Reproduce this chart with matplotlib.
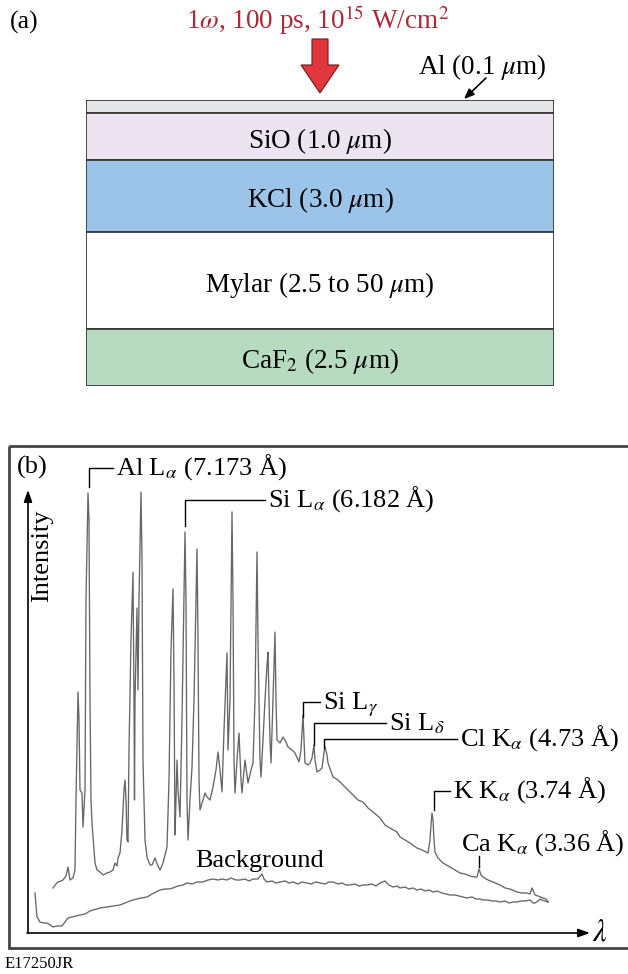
import numpy as np
import matplotlib.pyplot as plt
from matplotlib.patches import FancyArrow, Rectangle

plt.rcParams['font.family'] = ['Liberation Serif', 'DejaVu Serif']
plt.rcParams['mathtext.fontset'] = 'stix'

W, H = 628, 974

# (a) target layers, top to bottom
layer_labels = ['', r'SiO (1.0 $\mu$m)', r'KCl (3.0 $\mu$m)',
                r'Mylar (2.5 to 50 $\mu$m)', r'CaF$_2$ (2.5 $\mu$m)']
layer_draw = [13, 47, 72, 97, 57]   # schematic heights
layer_colors = ['#e5e6e7', '#ede4f1', '#9cc4e8', '#ffffff', '#b7dbc0']

# (b) spectrum, channel vs intensity (arb. units)
chan_main = [53, 56, 58, 61, 63, 66, 68, 70, 73, 75,
             76, 78, 79, 80, 82, 83, 85, 86, 88, 89, 90, 91, 92, 95, 97, 100, 103, 107, 110, 113,
             115, 117, 118, 120, 122, 124, 125, 126, 127, 128, 129, 131, 133, 134, 134.5, 135, 137, 138, 139, 141,
             142, 143, 145, 147, 150, 152, 155, 158, 160, 163, 165, 167, 169, 171, 173, 174, 175, 176, 177, 178,
             180, 182, 185, 186, 187, 188, 190, 192, 194, 196, 197, 198, 199, 200, 203, 205, 207, 210, 213, 216,
             218, 220, 222, 224, 227, 228, 230, 232, 233, 234, 235, 237, 239, 241, 242, 245, 247, 248, 251, 253,
             255, 257, 258, 259, 260, 261, 263, 265, 267, 268, 269, 270, 271, 273, 275, 276, 277, 280, 283, 286,
             288, 292, 295, 299, 301, 303, 304, 305, 308, 310, 312, 314, 315, 317, 320, 322, 324, 325, 327, 328,
             333, 338, 343, 348, 353, 358, 363, 368, 373, 380, 385, 390, 397, 400, 405, 410, 417, 422, 428, 430,
             431, 432, 433, 434, 435, 438, 443, 450, 455, 460, 465, 470, 475, 477, 479, 481, 483, 488, 493, 500,
             505, 510, 517, 522, 527, 530, 532, 533, 535, 538, 543, 546, 548]
int_main = [44, 48, 50, 51, 52, 56, 65, 52, 54, 62,
            132, 240, 212, 142, 139, 105, 142, 332, 439, 412, 232, 132, 109, 69, 62, 60, 57, 59, 60, 62,
            69, 66, 74, 79, 102, 142, 152, 132, 92, 90, 182, 292, 360, 232, 132, 232, 324, 242, 332, 440,
            372, 172, 92, 75, 67, 67, 74, 66, 62, 69, 77, 85, 152, 282, 343, 252, 97, 132, 172, 142,
            115, 212, 400, 332, 132, 92, 132, 165, 232, 332, 383, 292, 152, 122, 132, 139, 135, 132, 145, 162,
            180, 162, 140, 202, 279, 182, 232, 420, 332, 172, 139, 172, 199, 152, 139, 172, 157, 149, 162, 169,
            232, 380, 292, 232, 172, 155, 192, 232, 267, 280, 232, 192, 169, 232, 300, 232, 192, 189, 195, 190,
            185, 182, 179, 170, 182, 217, 192, 169, 167, 169, 174, 187, 172, 160, 162, 164, 180, 185, 177, 169,
            155, 152, 147, 142, 137, 132, 130, 124, 120, 114, 107, 104, 100, 95, 92, 89, 84, 82, 79, 92,
            107, 119, 112, 92, 80, 74, 69, 65, 62, 59, 58, 56, 55, 55, 63, 57, 55, 52, 50, 47,
            44, 43, 40, 39, 39, 38, 44, 42, 37, 36, 34, 33, 30]

chan_bg = [35, 36, 37, 40, 44, 47, 50, 53, 57, 62, 65, 68, 72, 76, 80, 85, 90, 93, 97, 100,
           107, 113, 120, 125, 130, 133, 137, 141, 147, 152, 156, 160, 165, 169, 173, 178, 183, 187, 192, 197,
           203, 208, 213, 218, 222, 227, 231, 236, 240, 245, 249, 253, 258, 262, 264, 267, 272, 276, 280, 285,
           289, 293, 298, 302, 307, 311, 316, 320, 325, 329, 333, 338, 342, 346, 350, 355, 359, 363, 367, 372,
           376, 380, 385, 389, 393, 397, 400, 405, 409, 413, 417, 421, 425, 429, 433, 437, 442, 446, 450, 455,
           459, 463, 467, 472, 476, 480, 483, 488, 492, 496, 500, 505, 509, 513, 517, 521, 525, 530, 533, 535,
           538, 540, 542, 545, 548]
int_bg = [39, 27, 15, 10, 9, 9, 7, 5, 6, 6, 10, 14, 15, 16, 17, 18, 21, 22, 23, 24,
          25, 26, 27, 29, 31, 32, 33, 34, 35, 38, 40, 42, 43, 43, 44, 46, 47, 49, 48, 50,
          50, 52, 53, 52, 53, 52, 54, 52, 52, 53, 51, 53, 53, 58, 53, 50, 51, 49, 50, 51,
          49, 50, 48, 50, 49, 48, 50, 49, 48, 50, 50, 48, 49, 47, 47, 48, 46, 47, 47, 48,
          46, 49, 51, 47, 45, 46, 44, 45, 43, 44, 42, 43, 41, 42, 40, 41, 39, 38, 37, 37,
          36, 35, 34, 35, 33, 33, 32, 32, 31, 31, 30, 31, 29, 30, 30, 31, 31, 32, 29, 29,
          31, 33, 32, 31, 30]

peak_text = [r'Al L$_\alpha$ (7.173 Å)', r'Si L$_\alpha$ (6.182 Å)', r'Si L$_\gamma$',
             r'Si L$_\delta$', r'Cl K$_\alpha$ (4.73 Å)', r'K K$_\alpha$ (3.74 Å)']
peak_chan = [89, 185, 303, 314, 324, 434]
# bracket: start above peak, level of horizontal leg, end of leg
brk_lo = [445, 406, 215, 187, 184, 122]
brk_hi = [464, 432, 230, 209, 193, 141]
brk_end = [113, 265, 320, 386, 457, 450]

fig = plt.figure(figsize=(W / 100, H / 100), dpi=100)

# overlay in pixel units for annotations
ov = fig.add_axes([0, 0, 1, 1])
ov.set_xlim(0, W)
ov.set_ylim(H, 0)
ov.axis('off')

# ---- panel (a)
ax_a = fig.add_axes([86 / W, 1 - 386 / H, (554 - 86) / W, 286 / H])
bottoms = np.concatenate([[0], np.cumsum(layer_draw)[:-1]])
ax_a.bar(0, layer_draw, bottom=bottoms, width=1, color=layer_colors,
         edgecolor='#3a3a3a', linewidth=1.3)
for lab, b, h in zip(layer_labels, bottoms, layer_draw):
    ax_a.text(0, b + h / 2, lab, ha='center', va='center_baseline', fontsize=19.5)
ax_a.set_xlim(-0.5, 0.5)
ax_a.set_ylim(sum(layer_draw), 0)
ax_a.axis('off')

ov.text(10, 29, '(a)', fontsize=18.5, va='baseline')
ov.text(318, 29, r'1$\omega$, 100 ps, 10$^{15}$ W/cm$^{2}$', fontsize=19.5,
        color='#ad2a3a', ha='center', va='baseline')
ov.add_patch(FancyArrow(320, 39, 0, 54, width=16, head_width=38, head_length=28,
                        length_includes_head=True, facecolor='#e2383d',
                        edgecolor='#6b1a1a', linewidth=0.8))
ov.text(418, 74, r'Al (0.1 $\mu$m)', fontsize=19.5, va='baseline')
ov.annotate('', xy=(464, 99), xytext=(486, 78),
            arrowprops=dict(arrowstyle='-|>,head_length=0.6,head_width=0.25',
                            color='k', lw=1.2, shrinkA=0, shrinkB=0))

# ---- panel (b)
ov.add_patch(Rectangle((9, 446), 640, 502, fill=False, edgecolor='#444444', lw=2))
ov.text(17, 474, '(b)', fontsize=19, va='baseline')
ov.annotate('', xy=(28, 490), xytext=(28, 933),
            arrowprops=dict(arrowstyle='-|>,head_length=0.7,head_width=0.25',
                            color='k', lw=1.2, shrinkA=0, shrinkB=0))
ov.annotate('', xy=(590, 933), xytext=(27, 933),
            arrowprops=dict(arrowstyle='-|>,head_length=0.7,head_width=0.25',
                            color='k', lw=1.2, shrinkA=0, shrinkB=0))
ov.text(42, 556, 'Intensity', fontsize=19, rotation=90, ha='center', va='center')
ov.text(600, 933, r'$\lambda$', fontsize=22, ha='center', va='center')
ov.text(5, 968, 'E17250JR', fontsize=12, va='baseline')

ax_b = fig.add_axes([27 / W, 42 / H, (W - 27) / W, 487 / H])
ax_b.set_xlim(27, W)
ax_b.set_ylim(0, 487)
ax_b.axis('off')
ax_b.plot(chan_main, int_main, color='#666666', lw=0.95)
ax_b.plot(chan_bg, int_bg, color='#666666', lw=0.95)

for txt, c, lo, hi, end in zip(peak_text, peak_chan, brk_lo, brk_hi, brk_end):
    ax_b.plot([c, c, end], [lo, hi, hi], color='k', lw=1.0)
    ax_b.text(end + 3, hi - 7, txt, fontsize=19, va='baseline', clip_on=False)

ax_b.plot([479, 479], [65, 76], color='k', lw=1.0)
ax_b.text(461, 81, r'Ca K$_\alpha$ (3.36 Å)', fontsize=19, va='baseline', clip_on=False)
ax_b.text(260, 65, 'Background', fontsize=19, ha='center', va='baseline')

fig.savefig('out.png', dpi=100)
